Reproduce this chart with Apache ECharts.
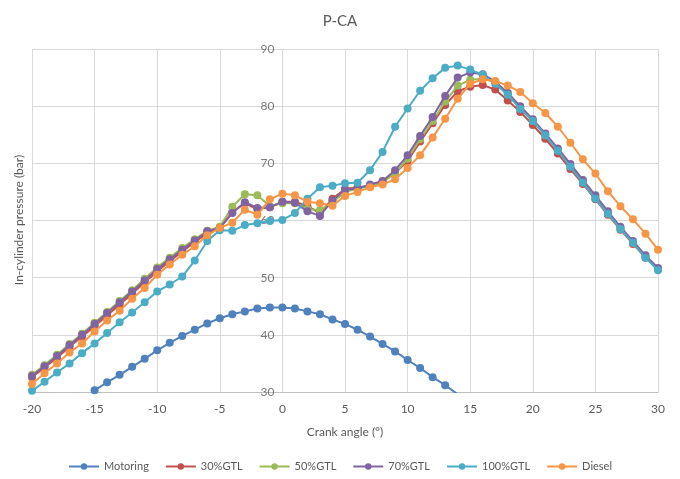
<!DOCTYPE html>
<html>
<head>
<meta charset="utf-8">
<script src="https://cdn.jsdelivr.net/npm/echarts@6/dist/echarts.min.js"></script>
<style>
  html, body { margin: 0; padding: 0; background: #fff; }
  #chart { width: 680px; height: 479px; }
</style>
</head>
<body>
<div id="chart"></div>
<script>
// Crank angle (deg) for the fired cases, -20..30 in 1 degree steps
const angles = [-20,-19,-18,-17,-16,-15,-14,-13,-12,-11,-10,-9,-8,-7,-6,-5,-4,-3,-2,-1,0,1,2,3,4,5,6,7,8,9,10,11,12,13,14,15,16,17,18,19,20,21,22,23,24,25,26,27,28,29,30];

// Motoring trace (below 30 bar it is cut off by the axis)
const motoringAngles = [-15,-14,-13,-12,-11,-10,-9,-8,-7,-6,-5,-4,-3,-2,-1,0,1,2,3,4,5,6,7,8,9,10,11,12,13,14];
const motoring = [30.3,31.7,33.0,34.4,35.8,37.3,38.6,39.8,40.9,42.0,42.9,43.6,44.1,44.6,44.8,44.8,44.6,44.1,43.6,42.7,41.9,40.9,39.7,38.4,37.1,35.6,34.2,32.6,31.2,29.6];

// In-cylinder pressure (bar)
const gtl30 = [32.6,34.3,36.0,37.9,39.7,41.5,43.4,45.3,47.2,49.2,51.1,52.9,54.6,56.2,57.8,58.6,
  61.5,63.0,62.0,62.3,63.3,63.3,62.5,61.3,63.8,65.5,65.8,66.0,
  66.8,68.3,70.4,73.8,77.0,80.2,82.6,83.4,83.7,82.9,81.0,
  79.0,76.7,74.3,71.7,69.0,66.4,63.7,61.0,58.4,55.9,53.5,51.5];
const gtl50 = [33.0,34.7,36.5,38.4,40.2,42.1,44.0,45.9,47.8,49.8,51.8,53.5,55.2,56.7,58.2,58.9,
  62.4,64.6,64.4,62.5,63.0,63.0,62.0,61.8,63.2,65.0,65.6,66.0,
  66.6,68.3,70.8,74.2,77.4,80.8,83.6,84.6,84.8,84.2,82.3,
  79.7,77.4,74.9,72.3,69.6,66.8,64.0,61.3,58.6,56.1,53.6,51.4];
const gtl70 = [32.8,34.5,36.3,38.2,40.0,41.9,43.8,45.7,47.6,49.5,51.5,53.2,54.9,56.5,58.1,58.7,
  61.3,63.2,62.2,62.3,63.3,63.1,61.6,60.8,63.5,65.4,65.6,66.3,
  66.9,68.8,71.4,74.8,78.1,81.8,85.0,85.9,85.6,84.3,82.3,
  80.0,77.7,75.2,72.6,69.9,67.1,64.4,61.6,58.9,56.4,53.9,51.7];
const gtl100 = [30.2,31.8,33.4,35.0,36.8,38.5,40.3,42.2,43.9,45.7,47.6,48.8,50.2,53.0,56.4,58.3,
  58.2,59.2,59.5,59.9,60.1,61.3,63.8,65.8,66.1,66.5,66.6,68.8,
  72.0,76.4,79.6,82.7,84.9,86.7,87.1,86.4,85.5,83.9,82.0,
  79.5,77.4,74.9,72.2,69.4,66.6,63.8,61.2,58.5,56.1,53.5,51.3];
const diesel = [31.4,33.3,35.0,36.9,38.5,40.6,42.5,44.2,46.3,48.2,50.5,52.3,54.0,55.5,57.4,58.7,
  59.6,61.9,61.0,63.7,64.7,64.4,63.3,63.0,62.6,64.3,65.0,65.8,
  66.3,67.2,69.2,71.4,74.5,77.8,81.3,83.9,84.7,84.4,83.6,
  82.5,80.5,78.8,76.4,73.6,70.7,68.2,65.1,62.5,60.2,57.7,54.9];

// Pressure tick labels, printed along the 0 deg crank-angle line
const pressureTicks = [30, 40, 50, 60, 70, 80, 90];

const seriesNames = ['Motoring', '30%GTL', '50%GTL', '70%GTL', '100%GTL', 'Diesel'];
const seriesColors = ['#4F81BD', '#C0504D', '#9BBB59', '#8064A2', '#4BACC6', '#F79646'];

const pairs = (xs, ys) => xs.map((x, i) => [x, ys[i]]);
const seriesData = [
  pairs(motoringAngles, motoring),
  pairs(angles, gtl30),
  pairs(angles, gtl50),
  pairs(angles, gtl70),
  pairs(angles, gtl100),
  pairs(angles, diesel)
];

const FONT = 'Lato';
const TEXT = '#595959';
const GRID = '#D9D9D9';

const lineSeries = seriesNames.map((name, i) => ({
  name,
  type: 'line',
  data: seriesData[i],
  color: seriesColors[i],
  symbol: 'circle',
  symbolSize: 8,
  lineStyle: { width: 2 },
  clip: true,
  z: 3 + i
}));

// y-axis value labels sitting beside the vertical axis at 0 deg
const tickLabelSeries = {
  name: 'pressure-ticks',
  type: 'scatter',
  data: pressureTicks.map(v => [0, v]),
  symbolSize: 0,
  silent: true,
  clip: false,
  z: 2,
  label: {
    show: true,
    position: 'left',
    distance: 8,
    formatter: p => String(p.value[1]),
    color: TEXT,
    fontFamily: FONT,
    fontSize: 12
  }
};

const chart = echarts.init(document.getElementById('chart'), null, { renderer: 'canvas' });
chart.setOption({
  animation: false,
  backgroundColor: '#fff',
  textStyle: { fontFamily: FONT },
  title: {
    text: 'P-CA',
    left: 'center',
    top: 9,
    textStyle: { fontFamily: FONT, fontSize: 15, fontWeight: 'normal', color: TEXT }
  },
  grid: { left: 32, right: 22, top: 49, bottom: 87 },
  legend: {
    bottom: 2,
    left: 'center',
    itemWidth: 30,
    itemHeight: 8,
    itemGap: 16,
    textStyle: { fontFamily: FONT, fontSize: 11, color: TEXT },
    data: seriesNames
  },
  // vertical quantity label on the left edge
  graphic: [{
    type: 'text',
    x: 19,
    y: 220,
    rotation: Math.PI / 2,
    style: {
      text: 'In-cylinder pressure (bar)',
      fill: TEXT,
      font: '12px ' + FONT,
      align: 'center',
      verticalAlign: 'middle'
    }
  }],
  xAxis: {
    type: 'value',
    min: -20,
    max: 30,
    interval: 5,
    name: 'Crank angle (°)',
    nameLocation: 'middle',
    nameGap: 34,
    nameTextStyle: { fontFamily: FONT, fontSize: 12, color: TEXT },
    axisLine: { show: true, onZero: false, lineStyle: { color: '#BFBFBF', width: 1 } },
    axisTick: { show: false },
    axisLabel: { color: TEXT, fontFamily: FONT, fontSize: 12, margin: 11 },
    splitLine: { show: true, lineStyle: { color: GRID, width: 1 } }
  },
  yAxis: {
    type: 'value',
    min: 30,
    max: 90,
    interval: 10,
    axisLine: { show: false },
    axisTick: { show: false },
    axisLabel: { show: false },
    splitLine: { show: true, lineStyle: { color: GRID, width: 1 } }
  },
  series: [tickLabelSeries].concat(lineSeries)
});
</script>
</body>
</html>
